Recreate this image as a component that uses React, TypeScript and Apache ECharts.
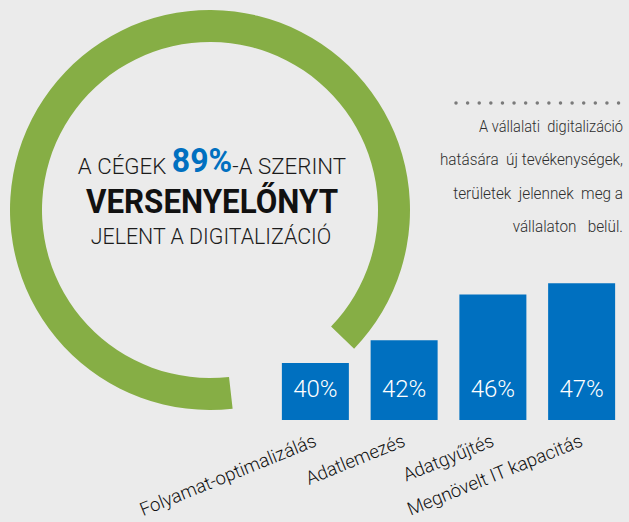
import React, { useEffect, useRef } from 'react';
import * as echarts from 'echarts';

const categories = ['Folyamat-optimalizálás', 'Adatlemezés', 'Adatgyűjtés', 'Megnövelt IT kapacitás'];
const values = [40, 42, 46, 47];
const ringShare = 89;
const headlineLine1 = ['A CÉGEK ', '89%', '-A SZERINT'];
const headlineLine2 = 'VERSENYELŐNYT';
const headlineLine3 = 'JELENT A DIGITALIZÁCIÓ';
const noteLines = [
  'A vállalati\u00a0\u00a0digitalizáció',
  'hatására\u00a0\u00a0új tevékenységek,',
  'területek\u00a0\u00a0jelennek\u00a0\u00a0meg a',
  'vállalaton\u00a0\u00a0\u00a0belül.',
];

export default function App() {
  const ref = useRef<HTMLDivElement>(null);
  useEffect(() => {
    if (!ref.current) return;
    const chart = echarts.init(ref.current, undefined, { renderer: 'svg' });
    const font = 'Roboto';
    const noteGraphics = noteLines.map((t, i) => ({
      type: 'text',
      x: 623,
      y: 126 + i * 33.5,
      scaleX: i === 0 ? 0.86 : 0.9,
      style: {
        text: t,
        fontFamily: font,
        fontSize: 17,
        fontWeight: 300,
        fill: '#2e2e2e',
        align: 'right',
        verticalAlign: 'middle',
      },
    }));
    chart.setOption({
      animation: false,
      backgroundColor: '#ebebeb',
      grid: { left: 271, right: 3, top: 249, bottom: 102, containLabel: false, outerBoundsMode: 'none' },
      xAxis: {
        type: 'category',
        data: categories,
        axisLine: { show: false },
        axisTick: { show: false },
        axisLabel: {
          interval: 0,
          rotate: 22,
          margin: 20,
          fontSize: 18.5,
          fontFamily: font,
          fontWeight: 300,
          color: '#111111',
        },
      },
      yAxis: { type: 'value', min: 35, max: 50, show: false },
      series: [
        {
          type: 'pie',
          center: [210, 210],
          radius: [168, 200],
          startAngle: 276.5,
          clockwise: true,
          silent: true,
          label: { show: false },
          labelLine: { show: false },
          emphasis: { disabled: true },
          data: [
            { value: ringShare, itemStyle: { color: '#86ae45' } },
            { value: 100 - ringShare, itemStyle: { color: 'transparent' } },
          ],
        },
        {
          type: 'bar',
          data: values,
          barWidth: 67,
          silent: true,
          itemStyle: { color: '#0070c0' },
          label: {
            show: true,
            position: 'insideBottom',
            distance: 19,
            formatter: '{c}%',
            color: '#ffffff',
            fontSize: 24,
            fontWeight: 300,
            fontFamily: font,
          },
        },
      ],
      graphic: [
        {
          type: 'text',
          x: 212,
          y: 161,
          scaleX: 0.97,
          style: {
            text: `{a|${headlineLine1[0]}}{b|${headlineLine1[1]}}{a|${headlineLine1[2]}}`,
            align: 'center',
            verticalAlign: 'middle',
            rich: {
              a: { fontFamily: font, fontSize: 23, fontWeight: 300, fill: '#1b1b1b', verticalAlign: 'bottom' },
              b: { fontFamily: font, fontSize: 33, fontWeight: 'bold', fill: '#0070c0', verticalAlign: 'bottom' },
            },
          },
        },
        {
          type: 'text',
          x: 212,
          y: 202,
          scaleX: 0.95,
          style: {
            text: headlineLine2,
            fontFamily: font,
            fontSize: 33,
            fontWeight: 'bold',
            fill: '#111111',
            align: 'center',
            verticalAlign: 'middle',
          },
        },
        {
          type: 'text',
          x: 211,
          y: 236,
          scaleX: 0.93,
          style: {
            text: headlineLine3,
            fontFamily: font,
            fontSize: 23,
            fontWeight: 300,
            fill: '#1b1b1b',
            align: 'center',
            verticalAlign: 'middle',
          },
        },
        {
          type: 'line',
          shape: { x1: 456, y1: 103, x2: 629, y2: 103 },
          style: { stroke: '#7a7a7a', lineWidth: 3.5, lineDash: [0.01, 11.6], lineCap: 'round' },
        },
        ...noteGraphics,
      ],
    });
    return () => chart.dispose();
  }, []);
  return (
    <div
      ref={ref}
      style={{ position: 'fixed', left: 0, top: 0, width: 629, height: 522 }}
    />
  );
}
